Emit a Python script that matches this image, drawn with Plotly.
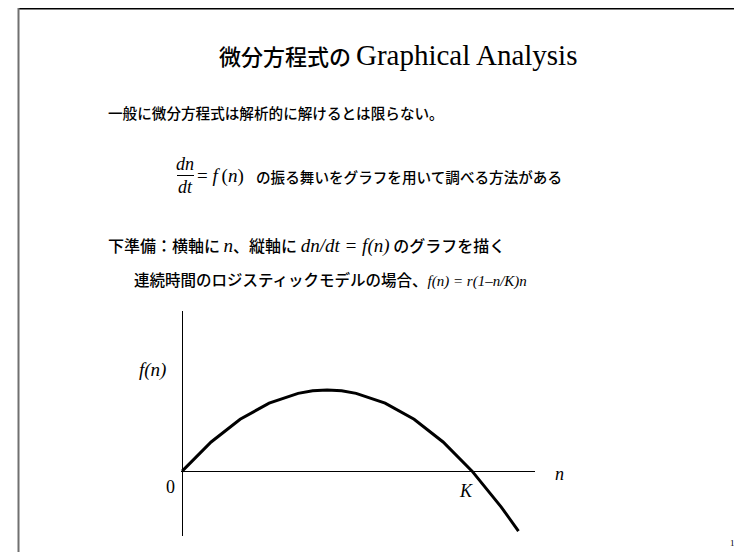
import plotly.graph_objects as go

# Data (n in units of K, f(n) in units of r*K)
n_values = [0.0, 0.1, 0.2, 0.3, 0.4, 0.45, 0.5, 0.55, 0.6, 0.7, 0.8, 0.9, 1.0, 1.1, 1.16]
f_values = [0.0, 0.09, 0.16, 0.21, 0.24, 0.248, 0.25, 0.248, 0.24, 0.21, 0.16, 0.09, 0.0, -0.11, -0.185]
axis_labels = {"y": "f(n)", "x": "n", "origin": "0", "K": "K"}

# page has an 8px body margin; figure sized to fit the window
OFF = 8
W, H = 742 - OFF, 552 - OFF
def px(x):
    return (x - OFF) / W
def py(y):
    return 1 - (y - OFF) / H

CJK = "Noto Sans CJK JP"
SERIF = "Liberation Serif"

def ser(t, italic=True, size=None):
    inner = f"<i>{t}</i>" if italic else t
    st = f"font-family:{SERIF}"
    if size:
        st += f";font-size:{size}px"
    return f'<span style="{st}">{inner}</span>'

fig = go.Figure()
fig.add_trace(go.Scatter(x=n_values, y=f_values, mode="lines",
                         line=dict(color="black", width=3), hoverinfo="skip",
                         showlegend=False, cliponaxis=False))

fig.update_layout(
    width=W, height=H, margin=dict(l=0, r=0, t=0, b=0),
    paper_bgcolor="white", plot_bgcolor="white",
    xaxis=dict(domain=[px(181), px(535)], range=[-0.004, 1.217], showgrid=False,
               zeroline=True, zerolinecolor="black", zerolinewidth=1.3,
               showticklabels=False, ticks="", showline=False),
    yaxis=dict(domain=[py(536), py(311)], range=[-0.2, 0.494], showgrid=False,
               zeroline=True, zerolinecolor="black", zerolinewidth=1.3,
               showticklabels=False, ticks="", showline=False),
    showlegend=False,
)

shapes = [
    dict(type="line", xref="paper", yref="paper", x0=px(18), x1=1, y0=1.0, y1=1.0,
         line=dict(color="black", width=3)),
    dict(type="line", xref="paper", yref="paper", x0=px(18.5), x1=px(18.5), y0=1, y1=0,
         line=dict(color="#707070", width=2)),
    # fraction bar
    dict(type="line", xref="paper", yref="paper", x0=px(177), x1=px(194), y0=py(175.5), y1=py(175.5),
         line=dict(color="black", width=1)),
]
fig.update_layout(shapes=shapes)

def ann(x, y, text, size, family=CJK, xanchor="left", weight=500):
    fig.add_annotation(x=px(x), y=py(y), xref="paper", yref="paper", text=text,
                       showarrow=False, xanchor=xanchor, yanchor="middle",
                       font=dict(family=family, size=size, color="black", weight=weight))

# Title
ann(398, 55, "微分方程式の " + ser("Graphical Analysis", italic=False, size=29), 22, xanchor="center")
# Line 2
ann(106, 113, "一般に微分方程式は解析的に解けるとは限らない。", 14.6)
# Line 3
ann(185, 164, ser("dn"), 18, family=SERIF, xanchor="center", weight=400)
ann(185, 187, ser("dt"), 18, family=SERIF, xanchor="center", weight=400)
ann(195, 176, ser("=", italic=False) + " " + ser("f") + "\u2009" + ser("(", italic=False) + ser("n") + ser(")", italic=False),
    19, family=SERIF, weight=400)
ann(254, 176, "の振る舞いをグラフを用いて調べる方法がある", 14.6)
# Line 4
ann(106, 245, "下準備：横軸に " + ser("n", size=19) + "、縦軸に " + ser("dn/dt = f(n)", size=19) + " のグラフを描く", 16)
# Line 5
ann(132, 279, "連続時間のロジスティックモデルの場合、" + ser("f(n) = r(1–n/K)n", size=15), 15.5)

# Axis labels
ann(152, 370, ser(axis_labels["y"]), 19, family=SERIF, xanchor="center", weight=400)
ann(170, 487, ser(axis_labels["origin"], italic=False), 18, family=SERIF, xanchor="center", weight=400)
ann(466, 491, ser(axis_labels["K"]), 18, family=SERIF, xanchor="center", weight=400)
ann(559, 474, ser(axis_labels["x"]), 18, family=SERIF, xanchor="center", weight=400)
# Page number
ann(734, 543, ser("12", italic=False), 9, family=SERIF, xanchor="center", weight=400)

fig.write_html("out.html")
